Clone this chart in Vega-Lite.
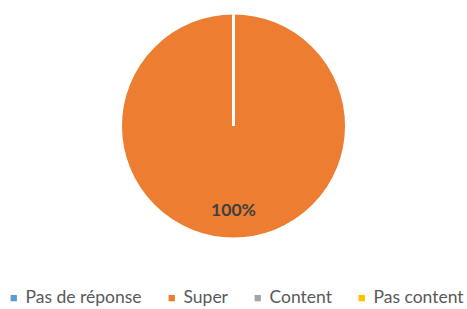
{
  "$schema": "https://vega.github.io/schema/vega-lite/v6.json",
  "width": 467,
  "height": 252,
  "padding": 0,
  "autosize": {"type": "pad"},
  "background": "white",
  "data": {"values": [
    {"reponse": "Pas de réponse", "pct": 0},
    {"reponse": "Super", "pct": 100},
    {"reponse": "Content", "pct": 0},
    {"reponse": "Pas content", "pct": 0}
  ]},
  "encoding": {
    "theta": {"field": "pct", "type": "quantitative", "stack": true},
    "color": {
      "field": "reponse", "type": "nominal",
      "scale": {"domain": ["Pas de réponse", "Super", "Content", "Pas content"], "range": ["#5B9BD5", "#ED7D31", "#A5A5A5", "#FFC000"]},
      "sort": null,
      "legend": {
        "orient": "none", "legendX": 5, "legendY": 289, "direction": "horizontal",
        "title": null, "symbolType": "square", "symbolSize": 40, "symbolStrokeWidth": 0,
        "labelFont": "Lato", "labelFontSize": 17.5, "labelColor": "#595959",
        "labelOffset": 3, "columnPadding": 21
      }
    }
  },
  "layer": [
    {"mark": {"type": "arc", "outerRadius": 113, "stroke": "white", "strokeWidth": 3}},
    {
      "transform": [{"filter": "datum.pct > 0"}],
      "mark": {"type": "text", "radius": 85, "font": "Lato", "fontSize": 17.5, "fontWeight": "bold", "fill": "#404040"},
      "encoding": {"text": {"value": "100%"}, "color": {"value": "#404040"}}
    }
  ],
  "config": {"view": {"stroke": null}}
}
